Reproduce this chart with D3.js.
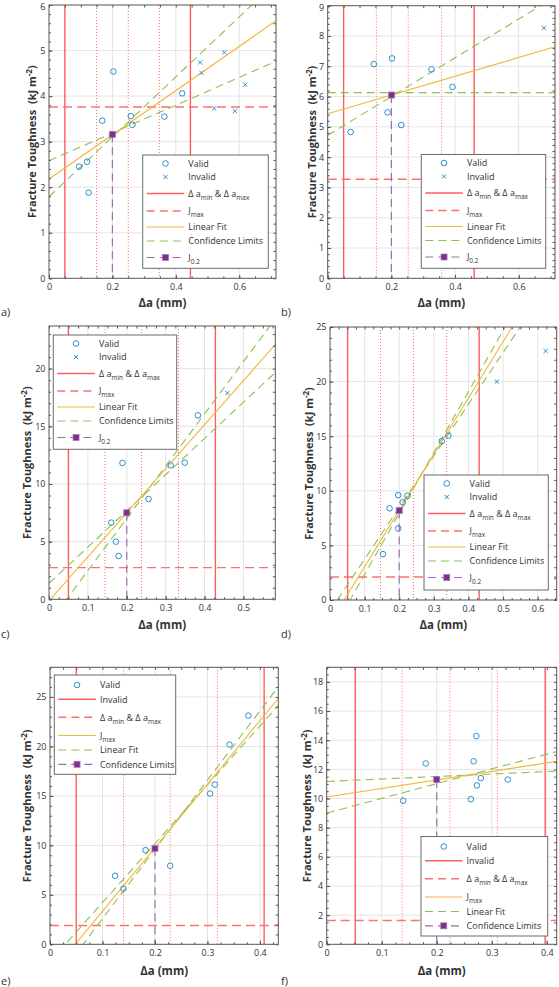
<!DOCTYPE html>
<html><head><meta charset="utf-8">
<script src="https://cdn.jsdelivr.net/npm/d3@7"></script>
<style>body{margin:0;background:#fff} svg{display:block} text{white-space:pre}</style>
</head><body><svg id="c" width="559" height="987"></svg>
<script>
// ---------------- DATA ----------------
// panel a
const aValid   = [[0.095,2.45],[0.12,2.56],[0.125,1.88],[0.168,3.46],[0.203,4.54],[0.258,3.56],[0.263,3.37],[0.364,3.55],[0.42,4.06]];
const aInvalid = [[0.477,4.74],[0.481,4.51],[0.553,4.96],[0.521,3.73],[0.586,3.67],[0.619,4.25]];
const aLimits  = [0.05, 0.446];
const aDotted  = [0.15, 0.25, 0.348];
const aJmax    = 3.76;
const aFit     = [2.18, 4.85];            // intercept, slope
const aConf    = [[1.79, 6.58],[2.58, 3.05]];
const aJ02     = [0.2, 3.16];
const aXTicks  = [0, 0.2, 0.4, 0.6];
const aYTicks  = [0, 1, 2, 3, 4, 5, 6];
// panel b
const bValid   = [[0.072,4.83],[0.145,7.07],[0.202,7.26],[0.188,5.48],[0.231,5.06],[0.326,6.9],[0.392,6.32]];
const bInvalid = [[0.679,8.27]];
const bLimits  = [0.05, 0.46];
const bDotted  = [0.153, 0.253, 0.358];
const bJmax    = 3.27;
const bFit     = [5.43, 3.1];
const bConf    = [[4.72, 6.4],[6.13, 0]];
const bJ02     = [0.2, 6.05];
const bXTicks  = [0, 0.2, 0.4, 0.6];
const bYTicks  = [0, 1, 2, 3, 4, 5, 6, 7, 8, 9];
// panel c
const cValid   = [[0.16,6.65],[0.172,5.0],[0.179,3.76],[0.189,11.82],[0.256,8.7],[0.313,11.62],[0.349,11.85],[0.383,15.95]];
const cInvalid = [[0.459,17.89]];
const cLimits  = [0.05, 0.428];
const cDotted  = [0.144, 0.238, 0.333];
const cJmax    = 2.75;
const cFit     = [-0.14, 38.2];
const cConf    = [[1.39, 31.4],[-2.04, 45.3]];
const cJ02     = [0.2, 7.5];
const cXTicks  = [0, 0.1, 0.2, 0.3, 0.4, 0.5];
const cYTicks  = [0, 5, 10, 15, 20];
// panel d
const dValid   = [[0.153,4.2],[0.172,8.4],[0.197,9.6],[0.197,6.55],[0.21,8.95],[0.224,9.55],[0.323,14.55],[0.342,15.05]];
const dInvalid = [[0.482,20.0],[0.623,22.8]];
const dLimits  = [0.051, 0.431];
const dDotted  = [0.146, 0.241, 0.337];
const dJmax    = 2.1;
const dFit     = [-2.1, 51.5];
const dConf    = [[-0.99, 47.3],[-3.24, 55.8]];
const dJ02     = [0.2, 8.2];
const dXTicks  = [0, 0.1, 0.2, 0.3, 0.4, 0.5, 0.6];
const dYTicks  = [0, 5, 10, 15, 20, 25];
// panel e
const eValid   = [[0.124,6.93],[0.14,5.62],[0.182,9.52],[0.229,7.94],[0.305,15.24],[0.314,16.15],[0.342,20.19],[0.378,23.12]];
const eInvalid = [];
const eLimits  = [0.05, 0.408];
const eDotted  = [0.14, 0.229, 0.319];
const eJmax    = 1.9;
const eFit     = [-3.08, 64.2];
const eConf    = [[-1.73, 59.5],[-4.41, 70]];
const eJ02     = [0.2, 9.7];
const eXTicks  = [0, 0.1, 0.2, 0.3, 0.4];
const eYTicks  = [0, 5, 10, 15, 20, 25];
// panel f
const fValid   = [[0.139,9.85],[0.18,12.4],[0.262,9.95],[0.267,12.55],[0.272,14.28],[0.273,10.9],[0.28,11.4],[0.329,11.3]];
const fInvalid = [];
const fLimits  = [0.052, 0.397];
const fDotted  = [0.137, 0.224, 0.31];
const fJmax    = 1.63;
const fFit     = [10.1, 5.86];
const fConf    = [[11.17, 1.7],[9.0, 10.1]];
const fJ02     = [0.2, 11.3];
const fXTicks  = [0, 0.1, 0.2, 0.3, 0.4];
const fYTicks  = [0, 2, 4, 6, 8, 10, 12, 14, 16, 18];

const domains = [[0.716, 6],[0.714, 9],[0.582, 23.7],[0.655, 25],[0.435, 28],[0.418, 19]];
const minorSteps = [[0.05,0.2],[0.05,0.2],[0.025,1],[0.025,1],[0.025,1],[0.025,0.5]];
const panelNames = ['a)','b)','c)','d)','e)','f)'];

// legend labels
const legendFull = [
  {type:'circle', segs:[['Valid']]},
  {type:'cross',  segs:[['Invalid']]},
  {type:'redSolid', segs:[['Δ a'],['min',1],[' & Δ a'],['max',1]]},
  {type:'redDash', segs:[['J'],['max',1]]},
  {type:'yellow', segs:[['Linear Fit']]},
  {type:'greenDash', segs:[['Confidence Limits']]},
  {type:'purple', segs:[['J'],['0.2',1]]}
];
const legendShort = [
  {type:'circle', segs:[['Valid']]},
  {type:'redSolid', segs:[['Invalid']]},
  {type:'redDash', segs:[['Δ a'],['min',1],[' & Δ a'],['max',1]]},
  {type:'yellow', segs:[['J'],['max',1]]},
  {type:'greenDash', segs:[['Linear Fit']]},
  {type:'purple', segs:[['Confidence Limits']]}
];

// ---------------- LAYOUT ----------------
const layouts = [
  {l:49,   t:5,     r:276,   b:278.3, lab:[31.5, 303], name:[1,316],   leg:{x:142.7,y:155,w:125.6,h:113.3}},
  {l:327.7,t:5.7,   r:555,   b:278.3, lab:[311.5,303], name:[281,316], leg:{x:421.3,y:154.5,w:124.4,h:113.8}},
  {l:49,   t:326,   r:275.3, b:599.3, lab:[27,   625], name:[1,638],   leg:{x:53.3,y:335,w:123.4,h:114.3}},
  {l:330,  t:327,   r:556.7, b:600,   lab:[308.5,625], name:[281,638], leg:{x:424,y:475,w:124.3,h:115}},
  {l:50,   t:667.3, r:278.3, b:944.3, lab:[27,   970.5], name:[1,985], leg:{x:54.3,y:675,w:121.4,h:99.3}},
  {l:326.7,t:667.3, r:556.7, b:944.3, lab:[307,  970.5], name:[281,985], leg:{x:421,y:836.5,w:126.7,h:99.5}}
];
const rows7 = [8.5, 22, 38.5, 56, 72, 86, 102.5];
const rows6 = [10, 24.3, 42.3, 60.5, 75, 89.3];

const C = {blue:'#2b8fd0', red:'#ff5c5c', redDot:'#ff6b6b', jmax:'#ff6f6f', yellow:'#f4b63a',
           green:'#8cc152', purple:'#7e2f8e', purpleLine:'#a06aae', grid:'#e4e4e4', frame:'#555', text:'#333'};
const FONT = '"Open Sans", "Noto Sans", sans-serif';

const panels = [
  {valid:aValid, invalid:aInvalid, lim:aLimits, dot:aDotted, jmax:aJmax, fit:aFit, conf:aConf, j02:aJ02, xt:aXTicks, yt:aYTicks, legend:legendFull},
  {valid:bValid, invalid:bInvalid, lim:bLimits, dot:bDotted, jmax:bJmax, fit:bFit, conf:bConf, j02:bJ02, xt:bXTicks, yt:bYTicks, legend:legendFull},
  {valid:cValid, invalid:cInvalid, lim:cLimits, dot:cDotted, jmax:cJmax, fit:cFit, conf:cConf, j02:cJ02, xt:cXTicks, yt:cYTicks, legend:legendFull},
  {valid:dValid, invalid:dInvalid, lim:dLimits, dot:dDotted, jmax:dJmax, fit:dFit, conf:dConf, j02:dJ02, xt:dXTicks, yt:dYTicks, legend:legendFull},
  {valid:eValid, invalid:eInvalid, lim:eLimits, dot:eDotted, jmax:eJmax, fit:eFit, conf:eConf, j02:eJ02, xt:eXTicks, yt:eYTicks, legend:legendShort},
  {valid:fValid, invalid:fInvalid, lim:fLimits, dot:fDotted, jmax:fJmax, fit:fFit, conf:fConf, j02:fJ02, xt:fXTicks, yt:fYTicks, legend:legendShort}
];

const svg = d3.select('#c');
const fmt = d3.format('~g');

function cross(g, cx, cy, s, color) {
  g.append('path').attr('d', `M${cx-s},${cy-s}L${cx+s},${cy+s}M${cx-s},${cy+s}L${cx+s},${cy-s}`)
    .attr('stroke', color).attr('stroke-width', 1).attr('fill','none');
}
function hline(g, x0, x1, yy, color, w, dash) {
  const l = g.append('line').attr('x1',x0).attr('x2',x1).attr('y1',yy).attr('y2',yy)
    .attr('stroke',color).attr('stroke-width',w);
  if (dash) l.attr('stroke-dasharray', dash);
  return l;
}

panels.forEach((p, i) => {
  const L = layouts[i];
  const [xMax, yMax] = domains[i];
  const x = d3.scaleLinear().domain([0, xMax]).range([L.l, L.r]);
  const y = d3.scaleLinear().domain([0, yMax]).range([L.b, L.t]);
  const W = L.r - L.l, H = L.b - L.t;
  const g = svg.append('g');
  const clipId = 'clip' + i;
  svg.append('defs').append('clipPath').attr('id', clipId).append('rect')
    .attr('x', L.l).attr('y', L.t).attr('width', W).attr('height', H);

  // grid
  const grid = g.append('g');
  grid.selectAll('.gx').data(p.xt.filter(v => v > 0)).join('line')
    .attr('x1', d => x(d)).attr('x2', d => x(d)).attr('y1', L.t).attr('y2', L.b)
    .attr('stroke', C.grid).attr('stroke-width', 1);
  grid.selectAll('.gy').data(p.yt.filter(v => v > 0 && v < yMax)).join('line')
    .attr('y1', d => y(d)).attr('y2', d => y(d)).attr('x1', L.l).attr('x2', L.r)
    .attr('stroke', C.grid).attr('stroke-width', 1);

  const pl = g.append('g').attr('clip-path', `url(#${clipId})`);
  pl.selectAll('.dot').data(p.dot).join('line')
    .attr('x1', d => x(d)).attr('x2', d => x(d)).attr('y1', L.t).attr('y2', L.b)
    .attr('stroke', C.redDot).attr('stroke-width', 1).attr('stroke-dasharray', '1,2');
  pl.selectAll('.lim').data(p.lim).join('line')
    .attr('x1', d => x(d)).attr('x2', d => x(d)).attr('y1', L.t).attr('y2', L.b)
    .attr('stroke', C.red).attr('stroke-width', 1.4);
  hline(pl, L.l, L.r, y(p.jmax), C.jmax, 1.4, '9,5');
  const line = d3.line().x(d => x(d[0])).y(d => y(d[1]));
  p.conf.forEach(c => {
    pl.append('path').attr('d', line([[0, c[0]], [xMax, c[0] + c[1] * xMax]]))
      .attr('stroke', C.green).attr('stroke-width', 1.1).attr('fill', 'none').attr('stroke-dasharray', '8,5');
  });
  pl.append('path').attr('d', line([[0, p.fit[0]], [xMax, p.fit[0] + p.fit[1] * xMax]]))
    .attr('stroke', C.yellow).attr('stroke-width', 1.1).attr('fill', 'none');
  pl.append('line').attr('x1', x(p.j02[0])).attr('x2', x(p.j02[0])).attr('y1', y(p.j02[1])).attr('y2', y(0))
    .attr('stroke', C.purpleLine).attr('stroke-width', 1.2).attr('stroke-dasharray', '8,5');
  pl.selectAll('.v').data(p.valid).join('circle')
    .attr('cx', d => x(d[0])).attr('cy', d => y(d[1])).attr('r', 2.8)
    .attr('fill', 'none').attr('stroke', C.blue).attr('stroke-width', 1);
  p.invalid.forEach(d => cross(pl, x(d[0]), y(d[1]), 2.1, C.blue));
  pl.append('rect').attr('x', x(p.j02[0]) - 3).attr('y', y(p.j02[1]) - 3).attr('width', 6).attr('height', 6)
    .attr('fill', C.purple).attr('stroke', '#a77bb8').attr('stroke-width', 0.8);

  // axes
  const [mx, my] = minorSteps[i];
  const xMinor = d3.range(0, xMax + 1e-9, mx);
  const yMinor = d3.range(0, yMax + 1e-9, my);
  const styleAxis = sel => { sel.select('.domain').remove(); sel.selectAll('line').attr('stroke', C.frame); };
  const ax = g.append('g').attr('transform', `translate(0,${L.b})`)
    .call(d3.axisBottom(x).tickValues(p.xt).tickFormat(fmt).tickSize(-3.5).tickPadding(5.3)).call(styleAxis);
  ax.selectAll('text').attr('font-family', FONT).attr('font-size', 9).attr('fill', C.text);
  g.append('g').attr('transform', `translate(0,${L.b})`)
    .call(d3.axisBottom(x).tickValues(xMinor).tickFormat('').tickSize(-2)).call(styleAxis);
  g.append('g').attr('transform', `translate(0,${L.t})`)
    .call(d3.axisTop(x).tickValues(xMinor).tickFormat('').tickSize(-2.5)).call(styleAxis);
  const ay = g.append('g').attr('transform', `translate(${L.l},0)`)
    .call(d3.axisLeft(y).tickValues(p.yt).tickFormat(fmt).tickSize(-3.5).tickPadding(3.5)).call(styleAxis);
  ay.selectAll('text').attr('font-family', FONT).attr('font-size', 9).attr('fill', C.text)
    .attr('dy', d => (y(d) < 7 ? '0.5em' : '0.32em'));
  g.append('g').attr('transform', `translate(${L.l},0)`)
    .call(d3.axisLeft(y).tickValues(yMinor).tickFormat('').tickSize(-2)).call(styleAxis);
  g.append('g').attr('transform', `translate(${L.r},0)`)
    .call(d3.axisRight(y).tickValues(yMinor).tickFormat('').tickSize(-2.5)).call(styleAxis);
  g.append('rect').attr('x', L.l).attr('y', L.t).attr('width', W).attr('height', H)
    .attr('fill', 'none').attr('stroke', C.frame).attr('stroke-width', 1);

  // axis labels
  g.append('text').attr('x', (L.l + L.r) / 2).attr('y', L.lab[1] + 4).attr('text-anchor', 'middle')
    .attr('font-family', FONT).attr('font-weight', 'bold').attr('font-size', 11.5).attr('fill', C.text)
    .text('Δa (mm)');
  const yl = g.append('text').attr('transform', `translate(${L.lab[0] + 4},${(L.t + L.b) / 2}) rotate(-90)`)
    .attr('text-anchor', 'middle').attr('font-family', FONT).attr('font-weight', 'bold')
    .attr('font-size', 11).attr('fill', C.text);
  yl.append('tspan').text('Fracture Toughness  (kJ m');
  yl.append('tspan').attr('dy', -4).attr('font-size', 8).text('-2');
  yl.append('tspan').attr('dy', 4).text(')');
  g.append('text').attr('x', L.name[0]).attr('y', L.name[1]).attr('font-family', FONT)
    .attr('font-size', 11).attr('fill', C.text).text(panelNames[i]);

  // legend
  const lg = L.leg;
  const leg = g.append('g');
  leg.append('rect').attr('x', lg.x).attr('y', lg.y).attr('width', lg.w).attr('height', lg.h)
    .attr('fill', '#fff').attr('stroke', '#6a6a6a').attr('stroke-width', 1);
  const rows = p.legend.length === 7 ? rows7 : rows6;
  p.legend.forEach((e, k) => {
    const yy = lg.y + rows[k];
    const x0 = lg.x + 4, x1 = lg.x + 41.5, xm = (x0 + x1) / 2;
    switch (e.type) {
      case 'circle': leg.append('circle').attr('cx', xm).attr('cy', yy).attr('r', 2.8)
        .attr('fill', 'none').attr('stroke', C.blue); break;
      case 'cross': cross(leg, xm, yy, 2.1, C.blue); break;
      case 'redSolid': hline(leg, x0, x1, yy, C.red, 1.4); break;
      case 'redDash': hline(leg, x0, x1, yy, C.jmax, 1.4, '8,5'); break;
      case 'yellow': hline(leg, x0, x1, yy, C.yellow, 1.1); break;
      case 'greenDash': hline(leg, x0, x1, yy, C.green, 1.1, '8,5'); break;
      case 'purple':
        hline(leg, x0, x1, yy, C.purpleLine, 1.2, '8,5');
        leg.append('rect').attr('x', xm - 3).attr('y', yy - 3).attr('width', 6).attr('height', 6)
          .attr('fill', C.purple).attr('stroke', '#a77bb8').attr('stroke-width', 0.8);
        break;
    }
    const t = leg.append('text').attr('x', lg.x + 45.6).attr('y', yy + 3.2)
      .attr('font-family', FONT).attr('font-size', 9).attr('fill', C.text);
    let shifted = false;
    e.segs.forEach(s => {
      const ts = t.append('tspan').text(s[0]);
      if (s[1] && !shifted) { ts.attr('dy', 3).attr('font-size', 6.5); shifted = true; }
      else if (s[1]) { ts.attr('font-size', 6.5); }
      else if (!s[1] && shifted) { ts.attr('dy', -3); shifted = false; }
    });
  });
});
</script>
</body></html>
